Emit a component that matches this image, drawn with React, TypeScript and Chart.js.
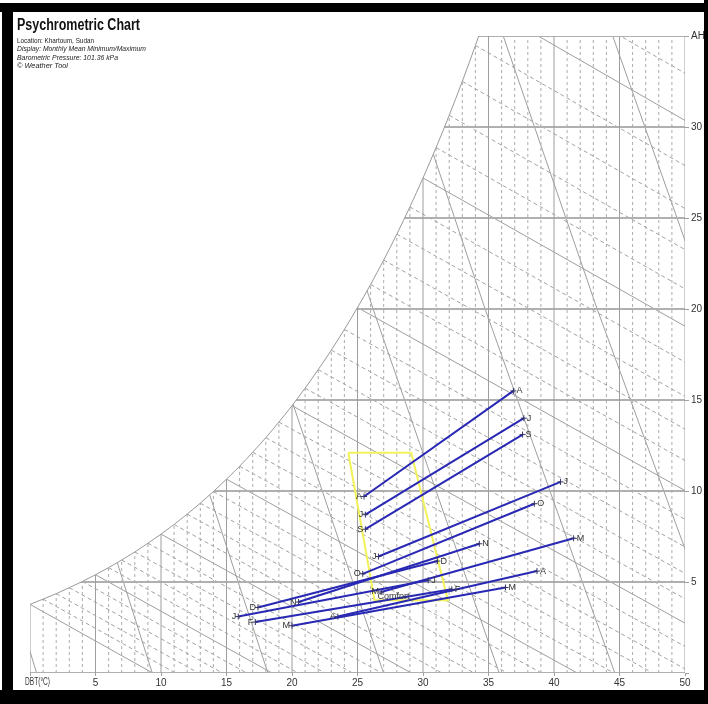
import React, { useEffect, useRef } from 'react';
import { Chart, registerables } from 'chart.js';

Chart.register(...registerables);

// ---------- chart text ----------
const titleText = 'Psychrometric Chart';
const subtitleLines = [
  'Location: Khartoum, Sudan',
  'Display: Monthly Mean Minimum/Maximum',
  'Barometric Pressure: 101.36 kPa',
  '\u00A9 Weather Tool',
];
const xAxisName = 'DBT(\u00B0C)';
const xTickLabels = ['', '5', '10', '15', '20', '25', '30', '35', '40', '45', '50'];
const yTickLabels = ['', '5', '10', '15', '20', '25', '30', 'AH'];

// ---------- chart frame (°C, g/kg) ----------
const dbtMin = 0;
const dbtMax = 50;
const ahMin = 0;
const ahMax = 35;
const pressureKPa = 101.36;

// saturation absolute humidity (g/kg) at 0..36 °C
const satTemps = [
  0, 1, 2, 3, 4, 5, 6, 7, 8, 9, 10, 11, 12, 13, 14, 15, 16, 17, 18,
  19, 20, 21, 22, 23, 24, 25, 26, 27, 28, 29, 30, 31, 32, 33, 34, 35, 36,
];
const satAH = [
  3.77, 4.06, 4.36, 4.69, 5.03, 5.40, 5.79, 6.21, 6.65, 7.13, 7.63, 8.16,
  8.73, 9.33, 9.97, 10.65, 11.36, 12.13, 12.93, 13.79, 14.69, 15.65, 16.67,
  17.74, 18.88, 20.08, 21.35, 22.69, 24.11, 25.61, 27.20, 28.87, 30.64,
  32.51, 34.48, 36.57, 38.77,
];

// grid lines
const dbtGridLines = [
  0, 1, 2, 3, 4, 5, 6, 7, 8, 9, 10, 11, 12, 13, 14, 15, 16, 17, 18, 19, 20,
  21, 22, 23, 24, 25, 26, 27, 28, 29, 30, 31, 32, 33, 34, 35, 36, 37, 38, 39,
  40, 41, 42, 43, 44, 45, 46, 47, 48, 49, 50,
];
const ahGridLines = [0, 5, 10, 15, 20, 25, 30, 35];
// specific volume lines (m³/kg)
const specificVolumes = [0.775, 0.8, 0.825, 0.85, 0.875, 0.9, 0.925, 0.95];
const volumeLineAH = [0, 20, 40];

// ---------- monthly mean minimum / maximum ----------
const months = ['J', 'F', 'M', 'A', 'M', 'J', 'J', 'A', 'S', 'O', 'N', 'D'];
const minDBT = [15.9, 17.2, 20.0, 23.5, 26.8, 26.6, 25.6, 25.5, 25.6, 25.4, 20.5, 17.4];
const minAH = [3.1, 2.8, 2.6, 3.1, 4.45, 6.4, 8.7, 9.7, 7.9, 5.45, 3.9, 3.6];
const maxDBT = [30.4, 32.2, 36.3, 38.7, 41.5, 40.5, 37.7, 36.9, 37.6, 38.5, 34.3, 31.1];
const maxAH = [5.1, 4.6, 4.7, 5.6, 7.4, 10.5, 14.0, 15.5, 13.1, 9.3, 7.1, 6.15];

// comfort zone polygon
const comfortDBT = [24.3, 29.1, 31.9, 26.3, 24.3];
const comfortAH = [12.1, 12.1, 4.0, 4.0, 12.1];
const comfortLabel = 'Comfort';

const NARROW = '"Liberation Sans Narrow", "Arial Narrow", "Liberation Sans", Arial, sans-serif';
const SANS = '"Liberation Sans", Arial, sans-serif';

function drawFit(
  ctx: CanvasRenderingContext2D,
  text: string,
  x: number,
  y: number,
  font: string,
  width: number,
) {
  ctx.save();
  ctx.font = font;
  const w = ctx.measureText(text).width || 1;
  ctx.translate(x, y);
  ctx.scale(width / w, 1);
  ctx.textAlign = 'left';
  ctx.textBaseline = 'alphabetic';
  ctx.fillText(text, 0, 0);
  ctx.restore();
}

const pagePlugin = {
  id: 'pagePlugin',
  beforeDraw(chart: any) {
    const ctx = chart.ctx as CanvasRenderingContext2D;
    ctx.save();
    ctx.fillStyle = '#ffffff';
    ctx.fillRect(0, 0, chart.width, chart.height);
    ctx.restore();
  },
  afterDatasetsDraw(chart: any) {
    const ctx = chart.ctx as CanvasRenderingContext2D;
    ctx.save();
    ctx.fillStyle = '#333333';
    ctx.font = '9px ' + NARROW;
    ctx.textBaseline = 'middle';
    chart.data.datasets.forEach((ds: any, i: number) => {
      const meta = chart.getDatasetMeta(i);
      if (ds.monthLabel) {
        const a = meta.data[0];
        const b = meta.data[1];
        ctx.textAlign = 'right';
        ctx.fillText(ds.monthLabel, a.x - 2, a.y);
        ctx.textAlign = 'left';
        ctx.fillText(ds.monthLabel, b.x + 3, b.y);
      }
      if (ds.comfortLabel) {
        const p = meta.data[3];
        ctx.textAlign = 'left';
        ctx.fillText(ds.comfortLabel, p.x + 3, p.y - 4);
      }
    });
    ctx.restore();
  },
  afterDraw(chart: any) {
    const ctx = chart.ctx as CanvasRenderingContext2D;
    ctx.save();
    ctx.fillStyle = '#000000';
    ctx.fillRect(0, 3, chart.width, 9);
    ctx.fillRect(2, 3, 11, chart.height - 3);
    ctx.fillRect(0, 690, chart.width, chart.height - 690);
    ctx.fillRect(704, 0, chart.width - 704, chart.height);

    ctx.fillStyle = '#111111';
    drawFit(ctx, titleText, 17, 30, 'bold 16px ' + SANS, 123);
    ctx.fillStyle = '#222222';
    const widths = [77, 129, 101, 51];
    const baselines = [42.5, 51, 59.5, 68];
    subtitleLines.forEach((t, i) => {
      const font = (i === 0 ? '' : 'italic ') + '8px ' + SANS;
      drawFit(ctx, t, 17, baselines[i], font, widths[i]);
    });
    ctx.fillStyle = '#333333';
    drawFit(ctx, xAxisName, 25, 685, '10px ' + SANS, 25);
    ctx.restore();
  },
};

export default function App() {
  const ref = useRef<HTMLCanvasElement>(null);

  useEffect(() => {
    const canvas = ref.current;
    if (!canvas) return;

    const solidGray = '#9e9e9e';
    const dashGray = '#acacac';
    const datasets: any[] = [];

    const guide = (pts: { x: number; y: number }[], color: string, width: number, dash: number[]) => ({
      data: pts,
      showLine: true,
      pointRadius: 0,
      borderColor: color,
      borderWidth: width,
      borderDash: dash,
      fill: false,
      tension: 0,
      order: 10,
    });

    // vertical dry-bulb lines
    dbtGridLines.forEach((t) => {
      const solid = t % 5 === 0;
      datasets.push(
        guide(
          [{ x: t, y: ahMin }, { x: t, y: ahMax }],
          solid ? solidGray : dashGray,
          1,
          solid ? [] : [3, 3],
        ),
      );
    });
    // horizontal humidity lines
    ahGridLines.forEach((w) => {
      datasets.push(guide([{ x: dbtMin, y: w }, { x: dbtMax, y: w }], '#b0b0b0', 2, []));
    });
    // enthalpy lines through each saturation temperature
    satTemps.forEach((t, i) => {
      const h = 1.006 * t + (satAH[i] / 1000) * (2501 + 1.86 * t);
      const tEnd = Math.min(h / 1.006, dbtMax);
      const wEnd = Math.max(((h - 1.006 * tEnd) / (2501 + 1.86 * tEnd)) * 1000, 0);
      const solid = t % 5 === 0;
      datasets.push(
        guide(
          [{ x: t, y: satAH[i] }, { x: tEnd, y: wEnd }],
          solid ? solidGray : '#a2a2a2',
          1,
          solid ? [] : [4, 3],
        ),
      );
    });
    // specific volume lines
    specificVolumes.forEach((v) => {
      const pts = volumeLineAH.map((w) => ({
        x: (v * pressureKPa) / 0.287055 / (1 + (1.6078 * w) / 1000) - 273.15,
        y: w,
      }));
      datasets.push(guide(pts, solidGray, 1, []));
    });

    // saturation curve with white mask above it
    datasets.push({
      data: satTemps.map((t, i) => ({ x: t, y: satAH[i] })),
      showLine: true,
      pointRadius: 0,
      borderColor: '#9a9a9a',
      borderWidth: 1,
      backgroundColor: '#ffffff',
      fill: 'end',
      cubicInterpolationMode: 'monotone',
      order: 5,
    });

    // comfort zone
    datasets.push({
      data: comfortDBT.map((t, i) => ({ x: t, y: comfortAH[i] })),
      showLine: true,
      pointRadius: 0,
      borderColor: '#f2f25a',
      borderWidth: 2,
      fill: false,
      tension: 0,
      order: 3,
      comfortLabel,
    });

    // monthly min/max lines
    months.forEach((m, i) => {
      datasets.push({
        data: [
          { x: minDBT[i], y: minAH[i] },
          { x: maxDBT[i], y: maxAH[i] },
        ],
        showLine: true,
        borderColor: '#2828b4',
        borderWidth: 2,
        pointStyle: 'cross',
        pointRadius: 3,
        pointBorderColor: '#333366',
        pointBorderWidth: 1,
        fill: false,
        order: 1,
        monthLabel: m,
      });
    });

    const chart = new Chart(canvas, {
      type: 'scatter',
      data: { datasets },
      options: {
        responsive: false,
        animation: false,
        devicePixelRatio: 1,
        events: [],
        layout: { padding: { left: 30, top: 36, right: 0, bottom: 0 } },
        plugins: {
          legend: { display: false },
          tooltip: { enabled: false },
          title: { display: false },
        },
        scales: {
          x: {
            type: 'linear',
            min: dbtMin,
            max: dbtMax,
            border: { display: false },
            grid: { drawOnChartArea: false, drawTicks: true, tickLength: 3, color: '#a0a0a0' },
            ticks: {
              stepSize: 5,
              autoSkip: false,
              maxRotation: 0,
              padding: 1,
              color: '#333333',
              font: { size: 10, family: NARROW },
              callback: (_v: any, idx: number) => xTickLabels[idx] ?? '',
            },
            afterFit: (s: any) => {
              s.height = 31;
            },
          },
          y: {
            type: 'linear',
            position: 'right',
            min: ahMin,
            max: ahMax,
            border: { display: false },
            grid: { drawOnChartArea: false, drawTicks: true, tickLength: 4, color: '#a0a0a0' },
            ticks: {
              stepSize: 5,
              autoSkip: false,
              padding: 2,
              color: '#333333',
              font: { size: 10, family: NARROW },
              callback: (_v: any, idx: number) => yTickLabels[idx] ?? '',
            },
            afterFit: (s: any) => {
              s.width = 23;
            },
          },
        },
      } as any,
      plugins: [pagePlugin],
    });

    return () => chart.destroy();
  }, []);

  return (
    <div style={{ position: 'absolute', left: 0, top: 0, width: 708, height: 704 }}>
      <canvas ref={ref} width={708} height={704} style={{ display: 'block' }} />
    </div>
  );
}
